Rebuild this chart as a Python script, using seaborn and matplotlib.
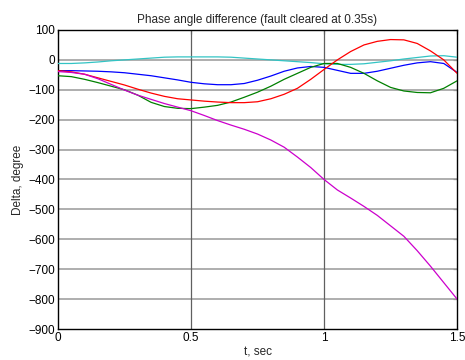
import numpy as np
import pandas as pd
import matplotlib
matplotlib.use('Agg')
import matplotlib.pyplot as plt
import seaborn as sns

# time axis (sec)
t = [0.0, 0.05, 0.1, 0.15, 0.2, 0.25, 0.3, 0.35, 0.4, 0.45, 0.5, 0.55, 0.6, 0.65, 0.7, 0.75,
     0.8, 0.85, 0.9, 0.95, 1.0, 1.05, 1.1, 1.15, 1.2, 1.25, 1.3, 1.35, 1.4, 1.45, 1.5]

# phase angle differences (degree)
cyan = [-12, -12, -10, -7, -3, 0, 3, 6, 9, 10, 10, 10, 10, 9, 6, 3,
        0, -3, -6, -9, -13, -15, -15, -13, -8, -3, 3, 8, 13, 14, 9]
blue = [-36, -36, -37, -38, -40, -43, -48, -53, -60, -67, -75, -80, -83, -83, -79, -68,
        -54, -38, -27, -22, -25, -35, -45, -45, -38, -28, -18, -10, -6, -12, -42]
green = [-53, -56, -65, -76, -88, -100, -118, -142, -156, -162, -163, -158, -152, -141, -125, -108,
         -88, -65, -45, -25, -12, -12, -25, -45, -70, -92, -104, -109, -110, -95, -70]
red = [-36, -40, -48, -60, -72, -84, -98, -111, -122, -130, -134, -138, -141, -143, -143, -140,
       -130, -115, -95, -65, -32, 0, 28, 50, 62, 68, 67, 55, 30, 0, -45]
magenta = [-39, -42, -48, -63, -82, -101, -118, -132, -146, -158, -170, -186, -203, -218, -232, -248,
           -268, -292, -325, -360, -400, -435, -462, -490, -520, -555, -590, -638, -690, -745, -800]

series = {'c': cyan, 'b': blue, 'g': green, 'r': red, 'm': magenta}
colors = {'c': '#33c4c4', 'b': '#0000ff', 'g': '#008000', 'r': '#ff0000', 'm': '#cc00cc'}

rows = []
for name, vals in series.items():
    for tt, v in zip(t, vals):
        rows.append({'t': tt, 'delta': v, 'gen': name})
df = pd.DataFrame(rows)

sns.set_style('white')
plt.rcParams['font.family'] = ['Liberation Sans', 'DejaVu Sans']

fig = plt.figure(figsize=(4.65, 3.6), dpi=100)
ax = fig.add_axes([0.1247, 0.0861, 0.8583, 0.8306])

sns.lineplot(data=df, x='t', y='delta', hue='gen', palette=colors, legend=False,
             linewidth=0.9, ax=ax, sort=False, zorder=3)

ax.set_xlim(0, 1.5)
ax.set_ylim(-900, 100)
ax.set_xticks([0, 0.5, 1, 1.5])
ax.set_xticklabels(['0', '0.5', '1', '1.5'])
ax.set_yticks(np.arange(-900, 101, 100))

# matlab-ish grid
for y in range(-800, 100, 100):
    ax.axhline(y, color='#a8a8a8', linestyle='-', linewidth=1.3, zorder=1)
for x in [0.5, 1.0]:
    ax.axvline(x, color='#606060', linewidth=0.9, zorder=1)

ax.tick_params(direction='in', length=3, width=0.8, labelsize=8.5, pad=2,
               top=True, right=True, colors='black')
for s in ax.spines.values():
    s.set_color('black')
    s.set_linewidth(1.0)

ax.set_title('Phase angle difference (fault cleared at 0.35s)', fontsize=8.5, pad=5)
ax.set_xlabel('t, sec', fontsize=8.5, labelpad=2)
ax.set_ylabel('Delta, degree', fontsize=8.5, labelpad=3)

fig.savefig('out.png', dpi=100)
